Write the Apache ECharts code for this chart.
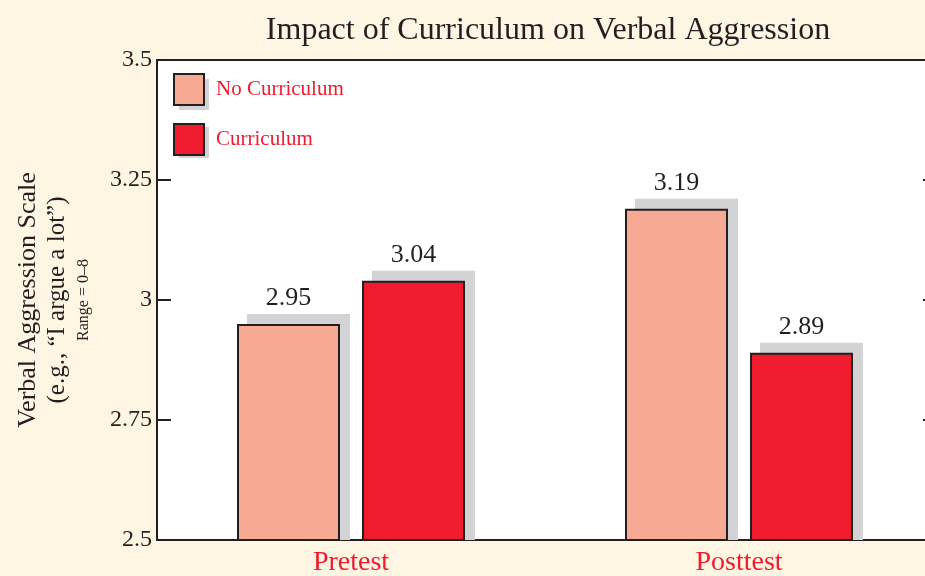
<!DOCTYPE html>
<html>
<head>
<meta charset="utf-8">
<script src="https://cdn.jsdelivr.net/npm/echarts@6/dist/echarts.min.js"></script>
<style>
  html, body { margin: 0; padding: 0; background: #fef5e3; }
  #chart { width: 925px; height: 576px; }
</style>
</head>
<body>
<div id="chart"></div>
<script>
// ---- data ----
const categories = ['Pretest', 'Posttest'];
const seriesNames = ['No Curriculum', 'Curriculum'];
const noCurriculum = [2.95, 3.19];
const curriculum = [3.04, 2.89];
const yTicks = [2.5, 2.75, 3, 3.25, 3.5];

const titleText = 'Impact of Curriculum on Verbal Aggression';
const yNameLines = ['Verbal Aggression Scale', '(e.g., \u201CI argue a lot\u201D)', 'Range = 0\u20138'];

// ---- style ----
const SERIF = '"Liberation Serif", "Times New Roman", serif';
const C_NC = '#f7aa93';
const C_C = '#ee1c2e';
const C_SHADOW = '#d3d3d5';
const C_DARK = '#231f20';
const C_RED_TEXT = '#ee1c2e';
const BAR_W = 103;
const BAR_GAP = 22;
const SH_OFF = 10;

const yMin = yTicks[0], yMax = yTicks[yTicks.length - 1], yInt = yTicks[1] - yTicks[0];

function shadowSeries(values, sideSign) {
  return {
    type: 'custom',
    z: 1,
    silent: true,
    clip: true,
    data: values.map((v, i) => [i, v]),
    renderItem: function (params, api) {
      const cat = api.value(0), val = api.value(1);
      const top = api.coord([cat, val]);
      const base = api.coord([cat, yMin]);
      const center = top[0] + sideSign * (BAR_W / 2 + BAR_GAP / 2);
      return {
        type: 'rect',
        shape: {
          x: center - BAR_W / 2 + SH_OFF,
          y: top[1] - SH_OFF,
          width: BAR_W,
          height: base[1] - top[1] + SH_OFF
        },
        style: { fill: C_SHADOW }
      };
    }
  };
}

function barSeries(name, values, color) {
  return {
    name: name,
    type: 'bar',
    z: 2,
    barWidth: BAR_W,
    barGap: (BAR_GAP / BAR_W * 100).toFixed(2) + '%',
    data: values,
    itemStyle: { color: color, borderColor: C_DARK, borderWidth: 2 },
    label: {
      show: true,
      position: 'top',
      distance: 13,
      fontFamily: SERIF,
      fontSize: 26,
      color: C_DARK,
      formatter: p => p.value.toFixed(2)
    }
  };
}

const chart = echarts.init(document.getElementById('chart'), null, { renderer: 'canvas' });

const yNameX = [28, 57, 84];
const yNameSize = [26, 25, 16];

const legendBase = {
  data: seriesNames,
  orient: 'vertical',
  icon: 'rect',
  padding: 0,
  itemWidth: 30,
  itemHeight: 31,
  itemGap: 17,
  selectedMode: false
};

chart.setOption({
  backgroundColor: '#fef5e3',
  animation: false,
  title: {
    text: titleText,
    left: 543,
    top: 10,
    textAlign: 'center',
    textStyle: { fontFamily: SERIF, fontSize: 32, fontWeight: 'normal', color: C_DARK }
  },
  legend: [
    Object.assign({}, legendBase, {
      left: 179,
      top: 79,
      z: 3,
      itemStyle: { color: C_SHADOW, borderWidth: 0 },
      textStyle: { fontFamily: SERIF, fontSize: 21, color: 'rgba(0,0,0,0)', padding: [4, 0, 0, 1] }
    }),
    Object.assign({}, legendBase, {
      left: 173,
      top: 73,
      z: 4,
      itemStyle: { borderColor: C_DARK, borderWidth: 2 },
      textStyle: { fontFamily: SERIF, fontSize: 21, color: C_RED_TEXT, padding: [4, 0, 0, 7] }
    })
  ],
  grid: {
    left: 157, top: 60, width: 776, height: 480,
    outerBoundsMode: 'none',
    containLabel: false,
    show: true,
    backgroundColor: '#ffffff',
    borderColor: C_DARK,
    borderWidth: 2
  },
  xAxis: {
    type: 'category',
    data: categories,
    axisLine: { show: true, lineStyle: { color: C_DARK, width: 2 } },
    axisTick: { show: false },
    axisLabel: { fontFamily: SERIF, fontSize: 28, color: C_RED_TEXT, margin: 9 }
  },
  yAxis: [{
    type: 'value',
    min: yMin, max: yMax, interval: yInt,
    position: 'left',
    axisLine: { show: true, lineStyle: { color: C_DARK, width: 2 } },
    axisTick: { show: true, inside: true, length: 14, lineStyle: { color: C_DARK, width: 2 } },
    splitLine: { show: false },
    axisLabel: { fontFamily: SERIF, fontSize: 24, color: C_DARK, margin: 5 }
  }, {
    type: 'value',
    min: yMin, max: yMax, interval: yInt,
    position: 'right',
    axisLine: { show: true, lineStyle: { color: C_DARK, width: 2 } },
    axisTick: { show: true, inside: true, length: 10, lineStyle: { color: C_DARK, width: 2 } },
    splitLine: { show: false },
    axisLabel: { show: false }
  }],
  graphic: yNameLines.map((t, i) => ({
    type: 'text',
    x: yNameX[i],
    y: 300,
    rotation: Math.PI / 2,
    style: {
      text: t,
      fontFamily: SERIF,
      fontSize: yNameSize[i],
      fill: C_DARK,
      textAlign: 'center',
      textVerticalAlign: 'middle'
    }
  })),
  series: [
    shadowSeries(noCurriculum, -1),
    shadowSeries(curriculum, 1),
    barSeries(seriesNames[0], noCurriculum, C_NC),
    barSeries(seriesNames[1], curriculum, C_C)
  ]
});
</script>
</body>
</html>
